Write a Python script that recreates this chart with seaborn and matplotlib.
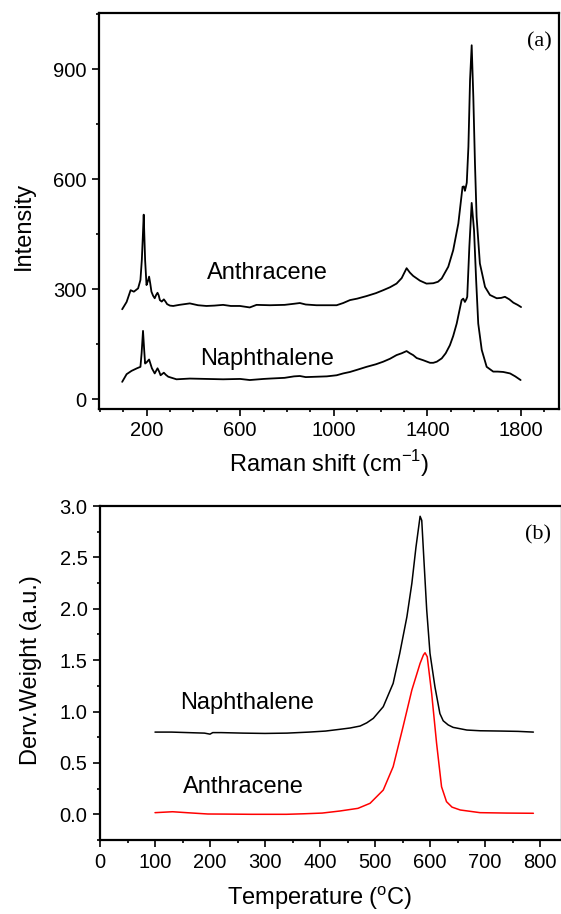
import matplotlib
matplotlib.use('Agg')
import matplotlib.pyplot as plt
from matplotlib.ticker import MultipleLocator, FormatStrFormatter
import pandas as pd
import seaborn as sns

# (a) Raman spectra
anth_shift = [96, 115, 132, 146, 164, 174, 180, 184, 188, 191, 194, 200, 206, 211, 216, 221,
              228, 235, 241, 247, 252, 257, 265, 274, 281, 288, 300, 314, 340, 385, 420, 456,
              490, 527, 560, 599, 641, 670, 727, 790, 830, 855, 880, 926, 970, 1012, 1040,
              1069, 1100, 1140, 1180, 1211, 1240, 1268, 1290, 1311, 1325, 1339, 1368, 1396,
              1425, 1445, 1461, 1489, 1510, 1532, 1550, 1556, 1560, 1564, 1568, 1575, 1582,
              1589, 1596, 1603, 1610, 1624, 1646, 1667, 1696, 1715, 1731, 1750, 1767, 1785, 1800]
anth_int = [245, 265, 297, 293, 302, 325, 380, 440, 503, 440, 379, 311, 322, 334, 315, 293,
            282, 275, 284, 290, 283, 270, 266, 272, 266, 259, 255, 254, 257, 261, 256, 254,
            255, 257, 254, 254, 250, 257, 256, 257, 260, 262, 258, 256, 256, 256, 262,
            270, 274, 281, 289, 297, 305, 315, 330, 357, 345, 336, 323, 315,
            316, 320, 329, 361, 406, 479, 579, 580, 568, 578, 590, 688, 870,
            965, 824, 643, 497, 370, 306, 284, 275, 276, 279, 272, 263, 257, 251]

naph_shift = [96, 115, 136, 159, 174, 179, 185, 190, 194, 200, 211, 217, 223, 235, 247, 254,
              260, 274, 283, 293, 328, 385, 456, 527, 600, 641, 700, 727, 790, 830, 855, 880,
              926, 970, 1012, 1040, 1069, 1100, 1140, 1180, 1211, 1240, 1268, 1290, 1311,
              1325, 1339, 1354, 1382, 1411, 1425, 1440, 1461, 1478, 1496, 1510, 1525, 1546,
              1553, 1560, 1566, 1570, 1579, 1589, 1599, 1608, 1617, 1632, 1653, 1681, 1700,
              1724, 1753, 1775, 1798]
naph_int = [47, 68, 77, 84, 88, 125, 186, 134, 97, 100, 108, 96, 84, 70, 84, 75,
            65, 72, 66, 61, 54, 56, 55, 54, 55, 52, 55, 56, 58, 62, 63, 60,
            61, 62, 65, 70, 74, 80, 88, 95, 102, 110, 120, 125, 131,
            125, 120, 112, 106, 99, 99, 102, 111, 125, 147, 172, 206, 270,
            274, 265, 272, 279, 415, 535, 461, 325, 206, 134, 88, 75, 75,
            74, 70, 62, 52]

# (b) DTG curves
naph_temp = [100, 130, 160, 190, 200, 205, 220, 260, 300, 340, 380, 410, 436, 455, 473, 485,
             497, 515, 533, 545, 558, 567, 574.5, 582, 585, 589, 594, 600, 609, 618, 624,
             633, 642, 667, 691, 730, 760, 788]
naph_dtg = [0.80, 0.80, 0.795, 0.79, 0.78, 0.795, 0.795, 0.79, 0.787, 0.79, 0.80, 0.81,
            0.827, 0.84, 0.859, 0.89, 0.934, 1.047, 1.274, 1.566, 1.922, 2.247, 2.60,
            2.90, 2.86, 2.47, 1.99, 1.566, 1.24, 0.98, 0.91, 0.87, 0.846, 0.82, 0.813,
            0.81, 0.807, 0.80]
anth_temp = [100, 132, 160, 196, 230, 275, 339, 370, 404, 436, 469, 491, 515, 533, 551, 567,
             582, 588, 591, 595, 603, 612, 621, 630, 640, 655, 691, 740, 788]
anth_dtg = [0.016, 0.025, 0.015, 0.003, 0.002, 0.0, 0.0, 0.005, 0.012, 0.032, 0.058, 0.107,
            0.236, 0.463, 0.852, 1.209, 1.469, 1.55, 1.572, 1.533, 1.177, 0.69, 0.268,
            0.123, 0.07, 0.042, 0.016, 0.012, 0.010]

raman_a = pd.DataFrame({'shift': anth_shift, 'intensity': anth_int})
raman_n = pd.DataFrame({'shift': naph_shift, 'intensity': naph_int})
dtg_n = pd.DataFrame({'temp': naph_temp, 'dtg': naph_dtg})
dtg_a = pd.DataFrame({'temp': anth_temp, 'dtg': anth_dtg})

sns.set_style('ticks')
plt.rcParams['font.family'] = ['Liberation Sans', 'DejaVu Sans']
plt.rcParams['mathtext.fontset'] = 'custom'
plt.rcParams['mathtext.rm'] = 'Liberation Sans'
plt.rcParams['axes.linewidth'] = 1.6
for key in ['text.color', 'axes.labelcolor', 'xtick.color', 'ytick.color',
            'axes.edgecolor', 'xtick.labelcolor', 'ytick.labelcolor']:
    plt.rcParams[key] = 'black'

W, H = 561, 914
fig = plt.figure(figsize=(W / 100, H / 100), dpi=100)
ax1 = fig.add_axes([99 / W, 1 - 409 / H, 460 / W, 396 / H])
ax2 = fig.add_axes([100 / W, 1 - 840 / H, 462 / W, 334 / H])

lw = 1.3
sns.lineplot(data=raman_a, x='shift', y='intensity', ax=ax1, color='black', lw=lw,
             estimator=None, sort=False)
sns.lineplot(data=raman_n, x='shift', y='intensity', ax=ax1, color='black', lw=lw,
             estimator=None, sort=False)
sns.lineplot(data=dtg_n, x='temp', y='dtg', ax=ax2, color='black', lw=1.1,
             estimator=None, sort=False)
sns.lineplot(data=dtg_a, x='temp', y='dtg', ax=ax2, color='#ff0000', lw=1.1,
             estimator=None, sort=False)

# panel (a)
ax1.set_xlim(-3, 1962)
ax1.set_ylim(-27, 1053)
ax1.xaxis.set_minor_locator(MultipleLocator(100))
ax1.set_xticks([200, 600, 1000, 1400, 1800])
ax1.yaxis.set_major_locator(MultipleLocator(300))
ax1.yaxis.set_minor_locator(MultipleLocator(150))
ax1.set_xlabel(r'Raman shift (cm$^{\mathregular{-1}}$)', fontsize=17, va='center')
ax1.set_ylabel('Intensity', fontsize=17, va='center')
ax1.xaxis.set_label_coords(0.5, (409 - 464) / 396)
ax1.yaxis.set_label_coords((24 - 99) / 460, (409 - 226) / 396)
ax1.text(458, 344, 'Anthracene', fontsize=17, ha='left', va='center')
ax1.text(428, 109, 'Naphthalene', fontsize=17, ha='left', va='center')
ax1.text(1825, 974, '(a)', fontsize=16, ha='left', va='center',
         family=['Liberation Serif', 'DejaVu Serif'])

# panel (b)
ax2.set_xlim(0, 840)
ax2.set_ylim(-0.25, 3.0)
ax2.xaxis.set_major_locator(MultipleLocator(100))
ax2.xaxis.set_minor_locator(MultipleLocator(50))
ax2.yaxis.set_major_locator(MultipleLocator(0.5))
ax2.yaxis.set_minor_locator(MultipleLocator(0.25))
ax2.yaxis.set_major_formatter(FormatStrFormatter('%.1f'))
ax2.set_xlabel(r'Temperature ($^{\mathregular{o}}$C)', fontsize=17, va='center')
ax2.set_ylabel('Derv.Weight (a.u.)', fontsize=17, va='center')
ax2.xaxis.set_label_coords((320 - 100) / 462, (840 - 898) / 334)
ax2.yaxis.set_label_coords((31 - 100) / 462, (840 - 670) / 334)
ax2.text(145, 1.08, 'Naphthalene', fontsize=17, ha='left', va='center')
ax2.text(151, 0.27, 'Anthracene', fontsize=17, ha='left', va='center')
ax2.text(773, 2.72, '(b)', fontsize=16, ha='left', va='center',
         family=['Liberation Serif', 'DejaVu Serif'])

for ax in (ax1, ax2):
    ax.tick_params(which='major', direction='out', length=5, width=1.2,
                   labelsize=14.5, color='black', pad=4)
    ax.tick_params(which='minor', direction='out', length=2.5, width=1.2, color='black')
    for s in ax.spines.values():
        s.set_color('black')
        s.set_visible(True)

fig.savefig('out.png', dpi=100)
